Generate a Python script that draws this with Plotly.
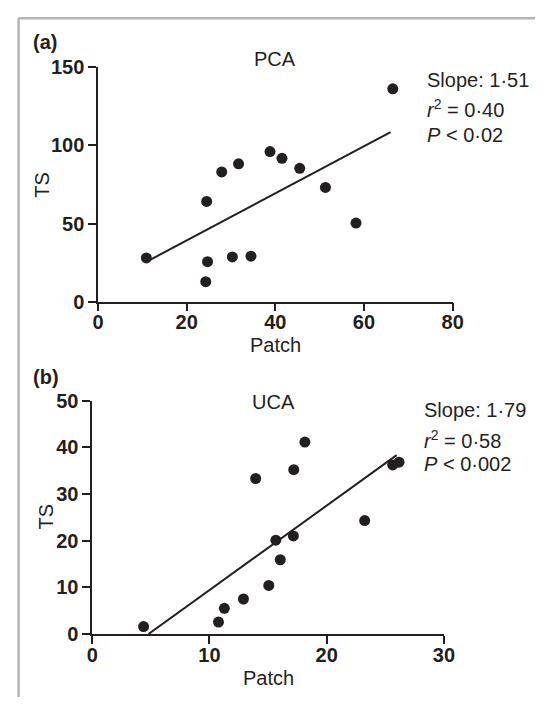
import plotly.graph_objects as go

# ---------------- data ----------------
# Panel (a) PCA
pca_patch = [10.9, 24.5, 24.7, 24.3, 27.9, 31.7, 30.3, 34.5, 38.8, 41.5, 45.5, 51.3, 58.2, 66.5]
pca_ts = [28.0, 64.1, 25.6, 12.8, 83.0, 88.2, 28.6, 29.1, 96.0, 91.7, 85.3, 73.1, 50.3, 136.2]
pca_fit_x = [11.1, 66.0]
pca_fit_y = [25.8, 108.4]
pca_stats = ["Slope: 1·51", "<i>r</i><sup>2</sup> = 0·40", "<i>P</i> &lt; 0·02"]

# Panel (b) UCA
uca_patch = [4.38, 10.77, 11.27, 12.9, 15.06, 13.94, 15.66, 16.04, 17.16, 17.19, 18.14, 23.24, 25.63, 26.17]
uca_ts = [1.6, 2.56, 5.5, 7.5, 10.4, 33.3, 20.1, 15.9, 21.0, 35.2, 41.1, 24.3, 36.2, 36.8]
uca_fit_x = [4.8, 25.97]
uca_fit_y = [0.0, 38.3]
uca_stats = ["Slope: 1·79", "<i>r</i><sup>2</sup> = 0·58", "<i>P</i> &lt; 0·002"]

pca_xticks = [0, 20, 40, 60, 80]
pca_yticks = [0, 50, 100, 150]
uca_xticks = [0, 10, 20, 30]
uca_yticks = [0, 10, 20, 30, 40, 50]

# ---------------- figure ----------------
W, H = 546, 708
FONT = "Liberation Sans, Arial, Helvetica, sans-serif"
INK = "#231f20"


def px(x):
    return x / W


def py(y):
    return 1 - y / H


fig = go.Figure()

# panel a
fig.add_trace(go.Scatter(x=pca_patch, y=pca_ts, mode="markers", xaxis="x", yaxis="y",
                         marker=dict(size=11, color=INK), cliponaxis=False, showlegend=False))
fig.add_trace(go.Scatter(x=pca_fit_x, y=pca_fit_y, mode="lines", xaxis="x", yaxis="y",
                         line=dict(color=INK, width=2), cliponaxis=False, showlegend=False))
# panel b
fig.add_trace(go.Scatter(x=uca_patch, y=uca_ts, mode="markers", xaxis="x2", yaxis="y2",
                         marker=dict(size=11, color=INK), cliponaxis=False, showlegend=False))
fig.add_trace(go.Scatter(x=uca_fit_x, y=uca_fit_y, mode="lines", xaxis="x2", yaxis="y2",
                         line=dict(color=INK, width=2), cliponaxis=False, showlegend=False))

axis_common = dict(showline=True, linecolor=INK, linewidth=1.5, ticks="outside", ticklen=8,
                   tickwidth=1.5, tickcolor=INK, showgrid=False, zeroline=False,
                   tickfont=dict(family=FONT, size=20, color=INK, weight="bold"))

fig.update_layout(
    width=W, height=H, autosize=False,
    margin=dict(l=0, r=0, t=0, b=0),
    paper_bgcolor="white", plot_bgcolor="white",
    font=dict(family=FONT, size=20, color=INK),
    xaxis=dict(domain=[px(95), px(461)], range=[0, 80], tickvals=pca_xticks,
               anchor="y", ticklabelstandoff=-6, **axis_common),
    yaxis=dict(domain=[py(300), py(58)], range=[0, 150], tickvals=pca_yticks,
               anchor="x", **axis_common),
    xaxis2=dict(domain=[px(89), px(452)], range=[0, 30], tickvals=uca_xticks,
                anchor="y2", ticklabelstandoff=-6, **axis_common),
    yaxis2=dict(domain=[py(643), py(402)], range=[0, 50], tickvals=uca_yticks,
                anchor="x2", **axis_common),
)

ann = []


def text(x, y, s, size=20, bold=False, xanchor="center", angle=0):
    ann.append(dict(x=px(x), y=py(y), xref="paper", yref="paper", text=s, showarrow=False,
                    xanchor=xanchor, yanchor="middle", textangle=angle,
                    font=dict(family=FONT, size=size, color=INK,
                              weight="bold" if bold else "normal")))


# panel labels
text(26, 32, "(a)", bold=True, xanchor="left")
text(26, 378, "(b)", bold=True, xanchor="left")
# titles
text(278, 50, "PCA")
text(276, 404, "UCA")
# axis titles
text(278, 345, "Patch")
text(271, 688, "Patch")
text(37.5, 179, "TS", angle=-90)
text(41, 522, "TS", angle=-90)
# stats
for s, yy in zip(pca_stats, [71.5, 101, 128]):
    text(432, yy, s, xanchor="left")
for s, yy in zip(uca_stats, [412, 442, 468]):
    text(429, yy, s, xanchor="left")

fig.update_layout(annotations=ann)

# gray frame (top and left)
fig.add_shape(type="line", xref="paper", yref="paper", x0=px(13), x1=1, y0=py(7.5), y1=py(7.5),
              line=dict(color="#b5b5b5", width=2.5))
fig.add_shape(type="line", xref="paper", yref="paper", x0=px(13), x1=px(13), y0=py(7.5), y1=0,
              line=dict(color="#b5b5b5", width=2.5))

post = ("document.body.style.margin='0';document.body.style.padding='0';"
        "document.documentElement.style.overflow='hidden';document.body.style.overflow='hidden';"
        "var gd=document.getElementById('{plot_id}');"
        "Plotly.relayout(gd,{width:546,height:708});")

fig.write_html("out.html", config={"responsive": False, "displayModeBar": False}, post_script=post)
